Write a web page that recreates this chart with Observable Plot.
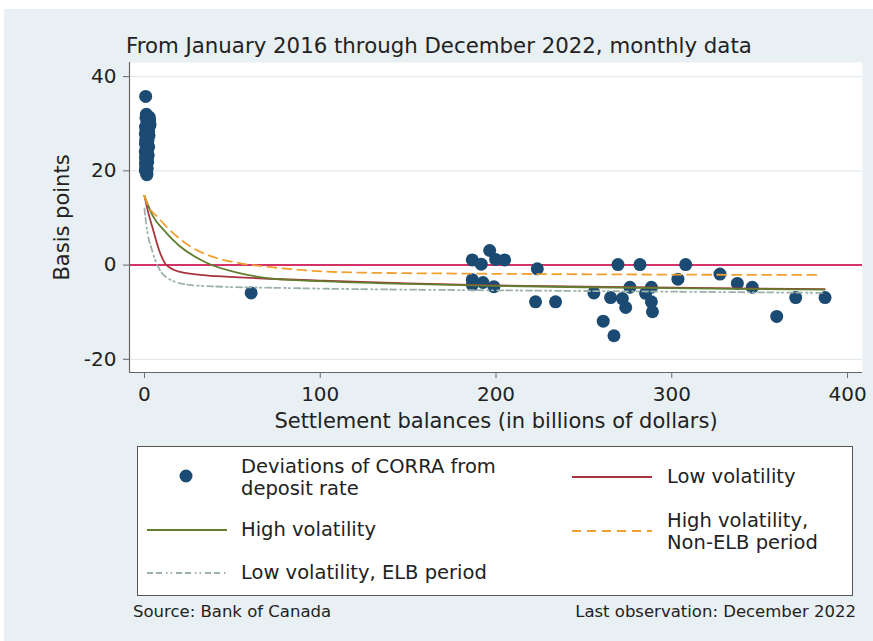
<!DOCTYPE html>
<html>
<head>
<meta charset="utf-8">
<script src="https://cdn.jsdelivr.net/npm/d3@7"></script>
<script src="https://cdn.jsdelivr.net/npm/@observablehq/plot@0.6"></script>
<style>
  html, body { margin: 0; padding: 0; background: #ffffff; }
  #wrap { position: relative; width: 873px; height: 641px; background: #ffffff; overflow: hidden; font-family: "DejaVu Sans", sans-serif; color: #222; }
  #bg { position: absolute; left: 4px; top: 9px; width: 869px; height: 632px; background: #e9f0f3; }
  #chart { position: absolute; left: 0; top: 0; }
  .t { position: absolute; white-space: nowrap; }
  #title { left: 126px; top: 33px; font-size: 21.3px; }
  #legend { position: absolute; left: 137px; top: 446px; width: 714px; height: 148px; background: #fff; border: 1px solid #555; }
  .lg { position: absolute; font-size: 19.5px; line-height: 22px; white-space: nowrap; transform: translateY(-50%); }
  .sw { position: absolute; overflow: visible; }
  .cap { position: absolute; top: 602px; font-size: 16.5px; white-space: nowrap; }
</style>
</head>
<body>
<div id="wrap">
  <div id="bg"></div>
  <div id="chart"></div>
  <div id="title" class="t"></div>
  <div id="legend"></div>
  <div id="capL" class="cap" style="left:133px"></div>
  <div id="capR" class="cap" style="right:17px"></div>
</div>
<script>
// ---------- data ----------
const titleText = "From January 2016 through December 2022, monthly data";
const yLabel = "Basis points";
const xLabel = "Settlement balances (in billions of dollars)";
const sourceText = "Source: Bank of Canada";
const lastObsText = "Last observation: December 2022";

const xTicks = [0, 100, 200, 300, 400];
const yTicks = [40, 20, 0, -20];

// Deviations of CORRA from deposit rate: settlement balances (billions) and spread (bp)
const balances = [
  0.7, 1.1, 1.6, 0.9, 2.8, 1.4, 3.1, 0.6, 2.2, 1.0,
  1.8, 0.5, 2.6, 1.3, 0.8, 2.0, 1.5, 0.6, 1.2, 2.4,
  0.9, 1.7, 0.5, 1.1, 2.1, 0.7, 1.4, 0.9, 1.9, 0.6,
  1.2, 0.8, 1.6, 0.5, 1.0, 1.3, 3.0, 2.3, 1.8, 0.9,
  1.5, 0.7, 1.1, 0.6, 1.4, 0.8, 2.7, 1.9, 2.9, 1.6,
  60.7,
  186.5, 191.6, 196.4, 199.8, 204.9, 186.5, 186.5, 192.6, 198.8,
  223.5, 222.5, 233.9, 255.7, 261.0, 265.2, 267.1, 269.4, 271.9, 273.8,
  276.2, 281.9, 285.1, 288.4, 288.4, 289.0, 303.5, 307.9, 327.4, 337.3,
  345.8, 359.7, 370.5, 387.2
];
const spreads = [
  35.8, 32.0, 31.6, 31.2, 30.6, 30.1, 29.7, 29.3, 28.9, 28.6,
  28.2, 27.9, 27.5, 27.2, 26.8, 26.5, 26.1, 25.8, 25.4, 25.1,
  24.7, 24.4, 24.0, 23.7, 23.3, 23.0, 22.6, 22.3, 21.9, 21.6,
  21.2, 20.9, 20.5, 20.2, 19.9, 19.5, 29.9, 28.4, 27.0, 25.6,
  24.2, 22.8, 21.4, 20.0, 19.2, 26.3, 31.4, 29.0, 30.8, 28.0,
  -5.9,
  1.1, 0.2, 3.1, 1.2, 1.1, -3.1, -4.2, -3.7, -4.6,
  -0.8, -7.8, -7.8, -5.9, -11.9, -6.9, -15.0, 0.1, -7.1, -9.0,
  -4.7, 0.1, -6.0, -4.7, -7.8, -9.9, -3.0, 0.1, -1.9, -3.9,
  -4.7, -10.9, -6.9, -6.9
];

// Fitted curves
const lowVolX = [0, 2, 4.7, 8.5, 12.3, 19.8, 35, 54, 71, 100, 150, 200, 250, 300, 350, 387];
const lowVolY = [14.7, 11.4, 7.8, 3.0, 0.1, -1.4, -2.2, -2.6, -2.9, -3.3, -3.9, -4.3, -4.6, -4.8, -5.0, -5.1];

const highVolX = [0, 4.7, 12.3, 19.8, 35, 54, 71, 100, 150, 200, 250, 300, 350, 387];
const highVolY = [14.7, 10.5, 6.9, 4.1, 0.55, -1.7, -2.8, -3.4, -4.0, -4.4, -4.7, -4.9, -5.1, -5.2];

const highVolNonElbX = [0, 1, 8.5, 16, 25.5, 35, 54, 71, 95, 123, 180, 250, 320, 384.6];
const highVolNonElbY = [14.7, 13.6, 9.8, 6.9, 4.1, 2.3, 0.4, -0.4, -1.2, -1.6, -1.8, -1.95, -2.05, -2.1];

const lowVolElbX = [0, 0.9, 4.7, 8.5, 14.2, 25.5, 44.4, 71, 120, 180, 250, 320, 387];
const lowVolElbY = [12.0, 9.0, 2.7, -0.85, -3.0, -4.2, -4.6, -4.8, -5.1, -5.3, -5.5, -5.7, -5.9];

const legendLabels = [
  "Deviations of CORRA from<br>deposit rate",
  "Low volatility",
  "High volatility",
  "High volatility,<br>Non-ELB period",
  "Low volatility, ELB period"
];

// ---------- styles ----------
const C = {
  dot: "#1b4a73",
  zero: "#d4336a",
  low: "#a9343f",
  high: "#607f2e",
  nonElb: "#f0a030",
  elb: "#9bb2a9",
  grid: "#e2eaee",
  axis: "#666"
};
const dashNonElb = "9,6";
const dashElb = "6,3,6,4,1.5,3,1.5,4";

const pts = balances.map((b, i) => ({x: b, y: spreads[i]}));
const toRows = (xs, ys) => xs.map((x, i) => ({x, y: ys[i]}));

const xDomain = [-8.5, 408.5];
const yDomain = [-22.8, 43];

const chart = Plot.plot({
  width: 873,
  height: 440,
  marginLeft: 129,
  marginRight: 11,
  marginTop: 62,
  marginBottom: 68,
  style: {background: "transparent", fontFamily: "DejaVu Sans, sans-serif", fontSize: "20px", color: "#222", overflow: "visible"},
  x: {domain: xDomain},
  y: {domain: yDomain},
  marks: [
    Plot.frame({fill: "white", stroke: null}),
    Plot.ruleY(yTicks.filter(d => d !== 0), {stroke: C.grid, strokeWidth: 1.3}),
    Plot.ruleY([0], {stroke: C.zero, strokeWidth: 2}),
    Plot.dot(pts, {x: "x", y: "y", r: 6.5, fill: C.dot, stroke: "none"}),
    Plot.line(toRows(lowVolElbX, lowVolElbY), {x: "x", y: "y", stroke: C.elb, strokeWidth: 1.8, strokeDasharray: dashElb, curve: "monotone-x"}),
    Plot.line(toRows(lowVolX, lowVolY), {x: "x", y: "y", stroke: C.low, strokeWidth: 1.8, curve: "monotone-x"}),
    Plot.line(toRows(highVolX, highVolY), {x: "x", y: "y", stroke: C.high, strokeWidth: 1.8, curve: "monotone-x"}),
    Plot.line(toRows(highVolNonElbX, highVolNonElbY), {x: "x", y: "y", stroke: C.nonElb, strokeWidth: 1.8, strokeDasharray: dashNonElb, curve: "monotone-x"}),
    Plot.ruleX([xDomain[0]], {stroke: C.axis, strokeWidth: 1.2}),
    Plot.ruleY([yDomain[0]], {stroke: C.axis, strokeWidth: 1.2}),
    Plot.axisX({ticks: xTicks, tickFormat: d => String(d), tickSize: 6, tickPadding: 8, label: null, stroke: C.axis, fill: "#222", fontSize: 20}),
    Plot.axisY({ticks: yTicks, tickFormat: d => String(d), tickSize: 6, tickPadding: 7, label: null, stroke: C.axis, fill: "#222", fontSize: 20}),
    Plot.text([yLabel], {frameAnchor: "left", dx: -67, rotate: -90, textAnchor: "middle", lineAnchor: "middle", fontSize: 21, fill: "#222"}),
    Plot.text([xLabel], {frameAnchor: "bottom", dy: 49, textAnchor: "middle", lineAnchor: "middle", fontSize: 21, fill: "#222"})
  ]
});
document.getElementById("chart").appendChild(chart);

document.getElementById("title").textContent = titleText;
document.getElementById("capL").textContent = sourceText;
document.getElementById("capR").textContent = lastObsText;

// ---------- legend (positions relative to legend box at 137,446) ----------
const lg = document.getElementById("legend");
function addText(html, x, y) {
  const d = document.createElement("div");
  d.className = "lg";
  d.style.left = (x - 138) + "px";
  d.style.top = (y - 447) + "px";
  d.innerHTML = html;
  lg.appendChild(d);
}
function addSwatch(x0, x1, y, color, dash, isDot) {
  const ns = "http://www.w3.org/2000/svg";
  const s = document.createElementNS(ns, "svg");
  s.setAttribute("class", "sw");
  s.setAttribute("width", 100); s.setAttribute("height", 20);
  s.style.left = (x0 - 138) + "px";
  s.style.top = (y - 447 - 10) + "px";
  if (isDot) {
    const c = document.createElementNS(ns, "circle");
    c.setAttribute("cx", 0); c.setAttribute("cy", 10); c.setAttribute("r", 6.5);
    c.setAttribute("fill", color);
    s.appendChild(c);
  } else {
    const l = document.createElementNS(ns, "line");
    l.setAttribute("x1", 0); l.setAttribute("x2", x1 - x0);
    l.setAttribute("y1", 10); l.setAttribute("y2", 10);
    l.setAttribute("stroke", color); l.setAttribute("stroke-width", 1.8);
    if (dash) l.setAttribute("stroke-dasharray", dash);
    s.appendChild(l);
  }
  lg.appendChild(s);
}
addSwatch(186, 186, 476, C.dot, null, true);
addText(legendLabels[0], 241, 478);
addSwatch(572, 652, 477, C.low, null, false);
addText(legendLabels[1], 667, 477);
addSwatch(147, 227, 530, C.high, null, false);
addText(legendLabels[2], 241, 530);
addSwatch(572, 652, 531, C.nonElb, dashNonElb, false);
addText(legendLabels[3], 667, 532);
addSwatch(147, 227, 573, C.elb, dashElb, false);
addText(legendLabels[4], 241, 573);
</script>
</body>
</html>
